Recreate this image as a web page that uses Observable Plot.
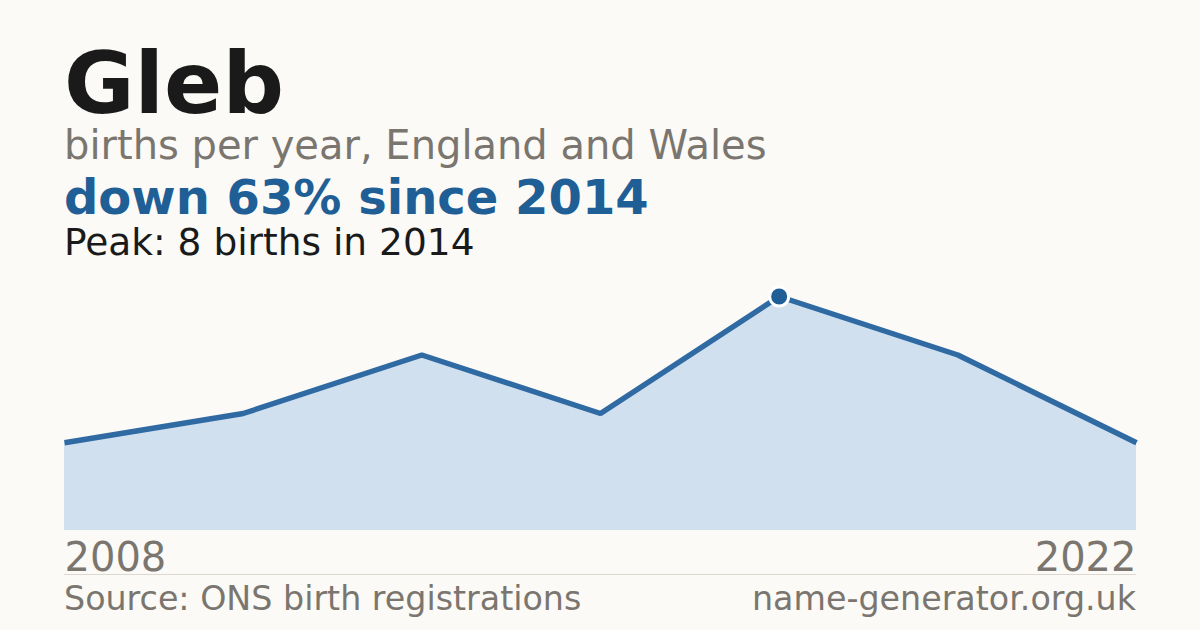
<!DOCTYPE html>
<html>
<head>
<meta charset="utf-8">
<script src="https://cdn.jsdelivr.net/npm/d3@7"></script>
<script src="https://cdn.jsdelivr.net/npm/@observablehq/plot@0.6"></script>
<style>
  html, body { margin: 0; padding: 0; }
  body { width: 1200px; height: 630px; background: #fbfaf6; position: relative; overflow: hidden; font-family: "DejaVu Sans", sans-serif; }
  .t { position: absolute; left: 64px; white-space: nowrap; line-height: 0.9; }
  #title { font-size: 86px; font-weight: bold; color: #1a1a1a; top: 44.5px; }
  #sub { font-size: 40px; color: #7a766f; top: 127px; }
  #trend { font-size: 48px; font-weight: bold; color: #1f5f96; top: 176px; }
  #peak { font-size: 37.5px; color: #1a1a1a; top: 225.5px; }
  #chart { position: absolute; left: 0; top: 270px; }
  #sep { position: absolute; left: 64px; width: 1072px; top: 574px; height: 1px; background: #dcd8d0; }
  .foot { position: absolute; top: 582px; font-size: 33.3px; color: #7a766f; line-height: 1; white-space: nowrap; }
  #src { left: 64px; }
  #site { right: 64px; }
</style>
</head>
<body>
<div id="title" class="t">Gleb</div>
<div id="sub" class="t">births per year, England and Wales</div>
<div id="trend" class="t">down 63% since 2014</div>
<div id="peak" class="t">Peak: 8 births in 2014</div>
<div id="chart"></div>
<div id="sep"></div>
<div id="src" class="foot">Source: ONS birth registrations</div>
<div id="site" class="foot">name-generator.org.uk</div>
<script>
const years = [2008, 2010, 2012, 2013, 2014, 2018, 2022];
const births = [3, 4, 6, 4, 8, 6, 3];
const tickYears = [2008, 2022];

const data = years.map((y, i) => ({year: y, births: births[i]}));
const peakIdx = births.indexOf(d3.max(births));
const peak = [data[peakIdx]];
const ticks = tickYears.map((y, i) => ({year: y, anchor: i === 0 ? "start" : "end"}));

const chart = Plot.plot({
  width: 1200,
  height: 310,
  marginLeft: 64,
  marginRight: 64,
  marginTop: 26,
  marginBottom: 50,
  style: {background: "transparent", fontFamily: "DejaVu Sans, sans-serif"},
  x: {type: "point", domain: years, padding: 0, round: false, axis: null},
  y: {domain: [0, 8], axis: null},
  marks: [
    Plot.areaY(data, {x: "year", y: "births", fill: "#d0e0ef"}),
    Plot.lineY(data, {x: "year", y: "births", stroke: "#2f6aa3", strokeWidth: 5.5, strokeLinecap: "butt", strokeLinejoin: "miter"}),
    Plot.dot(peak, {x: "year", y: "births", r: 9.5, fill: "#1f5f96", stroke: "#ffffff", strokeWidth: 3}),
    Plot.text(ticks.filter(d => d.anchor === "start"), {x: "year", y: 0, text: d => String(d.year), textAnchor: "start", lineAnchor: "bottom", dy: 40, fontSize: 40, fill: "#7a766f"}),
    Plot.text(ticks.filter(d => d.anchor === "end"), {x: "year", y: 0, text: d => String(d.year), textAnchor: "end", lineAnchor: "bottom", dy: 40, fontSize: 40, fill: "#7a766f"})
  ]
});
document.getElementById("chart").appendChild(chart);
</script>
</body>
</html>
